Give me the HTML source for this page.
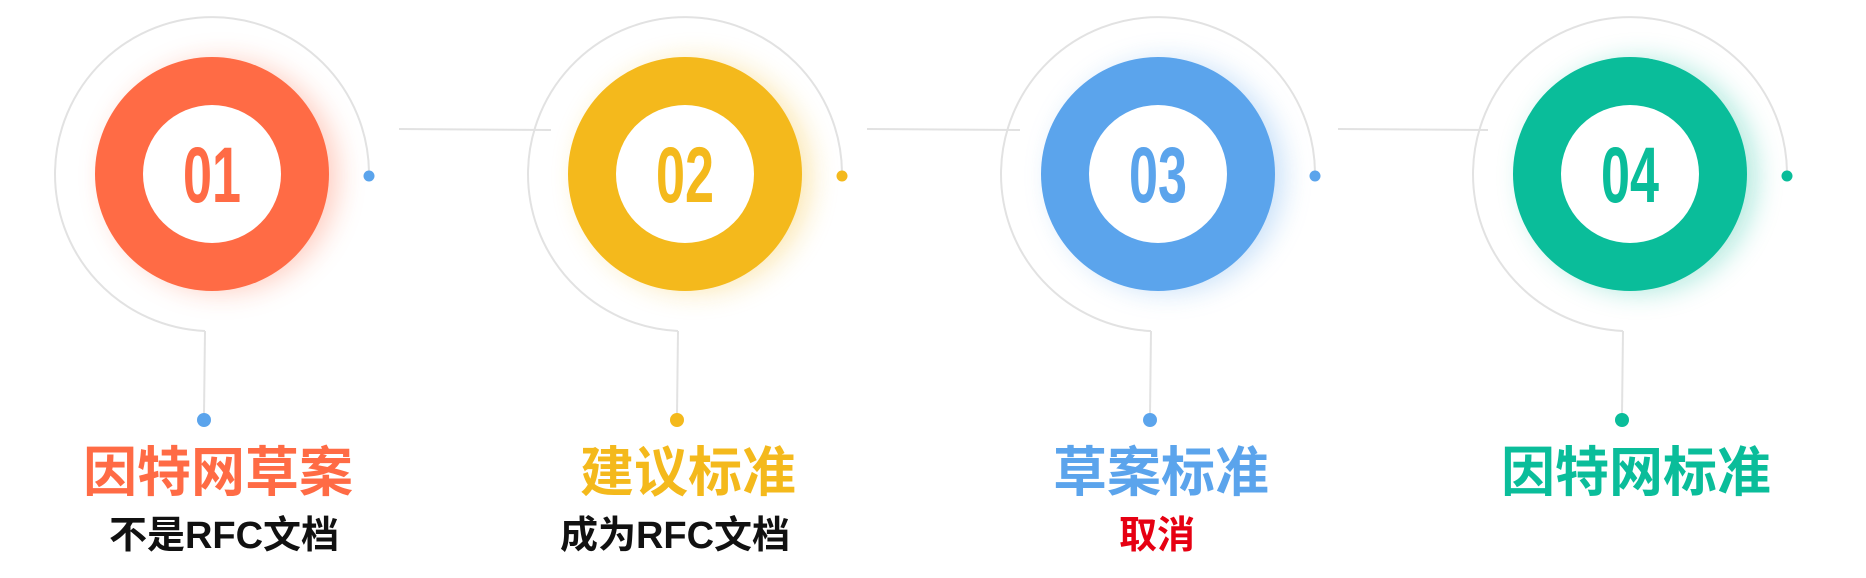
<!DOCTYPE html>
<html><head><meta charset="utf-8"><style>
html,body{margin:0;padding:0;background:#fff;width:1866px;height:578px;overflow:hidden}
svg text{font-family:"Liberation Sans","Noto Sans CJK SC",sans-serif;font-weight:bold}
</style></head><body>
<svg width="1866" height="578" viewBox="0 0 1866 578" xmlns="http://www.w3.org/2000/svg">
<defs>
<filter id="glow" x="-50%" y="-50%" width="200%" height="200%"><feGaussianBlur stdDeviation="14"/></filter>
</defs>
<g stroke="#e2e2e2" stroke-width="2" fill="none">
<line x1="399" y1="129" x2="551" y2="130"/>
<line x1="867" y1="129" x2="1020" y2="130"/>
<line x1="1338" y1="129" x2="1488" y2="130"/>
</g>
<g>
<circle cx="222" cy="176" r="115" fill="#FF6B45" opacity="0.35" filter="url(#glow)"/>
<path d="M205 331 A157 157 0 1 1 369 172" stroke="#e2e2e2" stroke-width="2" fill="none"/>
<line x1="205" y1="331" x2="204" y2="414" stroke="#e2e2e2" stroke-width="2"/>
<circle cx="212" cy="174" r="117" fill="#FF6B45"/>
<circle cx="212" cy="174" r="69" fill="#fff"/>
<text x="212" y="202" font-size="79" fill="#FF6B45" text-anchor="middle" transform="translate(212 0) scale(0.66 1) translate(-212 0)">01</text>
<circle cx="369" cy="176" r="5.5" fill="#5BA4EC"/>
<circle cx="204" cy="420" r="7" fill="#5BA4EC"/>
<text x="218" y="491" font-size="54" fill="#FF6B45" text-anchor="middle">因特网草案</text>
<text x="224" y="548" font-size="38" fill="#111" text-anchor="middle">不是RFC文档</text>
</g>
<g>
<circle cx="695" cy="176" r="115" fill="#F4B91C" opacity="0.35" filter="url(#glow)"/>
<path d="M678 331 A157 157 0 1 1 842 172" stroke="#e2e2e2" stroke-width="2" fill="none"/>
<line x1="678" y1="331" x2="677" y2="414" stroke="#e2e2e2" stroke-width="2"/>
<circle cx="685" cy="174" r="117" fill="#F4B91C"/>
<circle cx="685" cy="174" r="69" fill="#fff"/>
<text x="685" y="202" font-size="79" fill="#F4B91C" text-anchor="middle" transform="translate(685 0) scale(0.66 1) translate(-685 0)">02</text>
<circle cx="842" cy="176" r="5.5" fill="#F4B91C"/>
<circle cx="677" cy="420" r="7" fill="#F4B91C"/>
<text x="688" y="491" font-size="54" fill="#F4B91C" text-anchor="middle">建议标准</text>
<text x="675" y="548" font-size="38" fill="#111" text-anchor="middle">成为RFC文档</text>
</g>
<g>
<circle cx="1168" cy="176" r="115" fill="#5BA4EC" opacity="0.35" filter="url(#glow)"/>
<path d="M1151 331 A157 157 0 1 1 1315 172" stroke="#e2e2e2" stroke-width="2" fill="none"/>
<line x1="1151" y1="331" x2="1150" y2="414" stroke="#e2e2e2" stroke-width="2"/>
<circle cx="1158" cy="174" r="117" fill="#5BA4EC"/>
<circle cx="1158" cy="174" r="69" fill="#fff"/>
<text x="1158" y="202" font-size="79" fill="#5BA4EC" text-anchor="middle" transform="translate(1158 0) scale(0.66 1) translate(-1158 0)">03</text>
<circle cx="1315" cy="176" r="5.5" fill="#5BA4EC"/>
<circle cx="1150" cy="420" r="7" fill="#5BA4EC"/>
<text x="1161" y="491" font-size="54" fill="#5BA4EC" text-anchor="middle">草案标准</text>
<text x="1157" y="548" font-size="38" fill="#E60012" text-anchor="middle">取消</text>
</g>
<g>
<circle cx="1640" cy="176" r="115" fill="#0ABD9A" opacity="0.35" filter="url(#glow)"/>
<path d="M1623 331 A157 157 0 1 1 1787 172" stroke="#e2e2e2" stroke-width="2" fill="none"/>
<line x1="1623" y1="331" x2="1622" y2="414" stroke="#e2e2e2" stroke-width="2"/>
<circle cx="1630" cy="174" r="117" fill="#0ABD9A"/>
<circle cx="1630" cy="174" r="69" fill="#fff"/>
<text x="1630" y="202" font-size="79" fill="#0ABD9A" text-anchor="middle" transform="translate(1630 0) scale(0.66 1) translate(-1630 0)">04</text>
<circle cx="1787" cy="176" r="5.5" fill="#0ABD9A"/>
<circle cx="1622" cy="420" r="7" fill="#0ABD9A"/>
<text x="1636" y="491" font-size="54" fill="#0ABD9A" text-anchor="middle">因特网标准</text>
</g>
</svg>
</body></html>
